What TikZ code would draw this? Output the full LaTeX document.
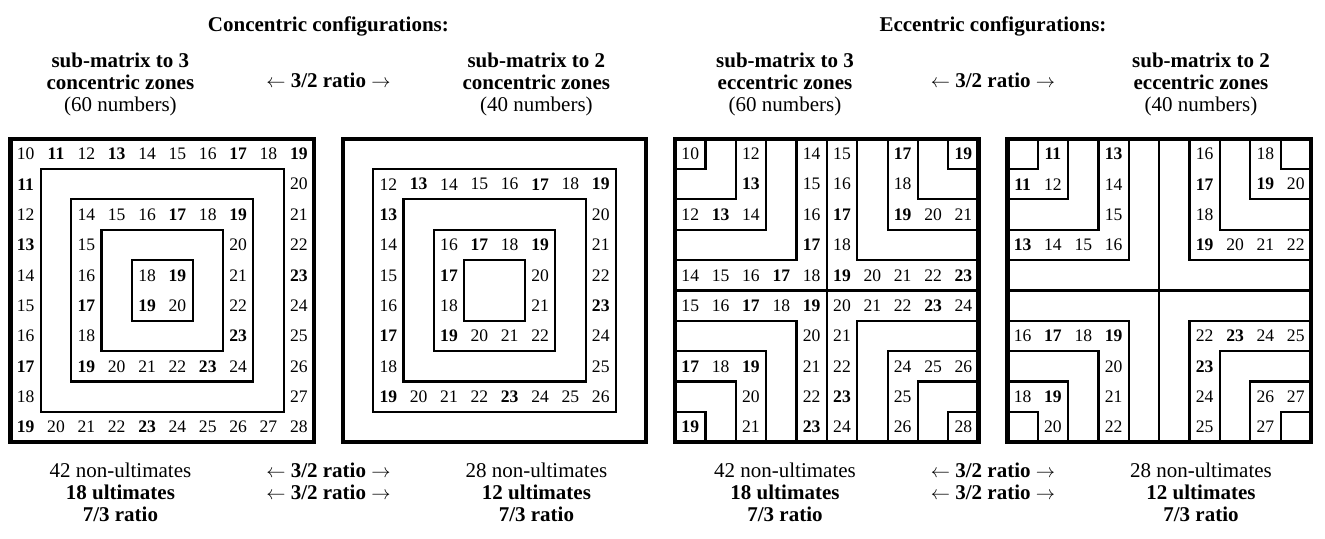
\documentclass[tikz,border=0pt]{standalone}
\usepackage{fontspec}
\setmainfont{Liberation Serif}
\usetikzlibrary{positioning}

% primes of the matrix are set in bold
\newcommand{\zn}[1]{%
  \ifnum#1=11 \textbf{#1}\else\ifnum#1=13 \textbf{#1}\else
  \ifnum#1=17 \textbf{#1}\else\ifnum#1=19 \textbf{#1}\else
  \ifnum#1=23 \textbf{#1}\else #1\fi\fi\fi\fi\fi}

\begin{document}
\begin{tikzpicture}[
    x=0.8cm, y=-0.8cm,
    frame/.style={line width=3.2pt},
    zone/.style={line width=1.6pt},
    num/.style={inner sep=0pt, font=\fontsize{13.2}{14}\selectfont},
    title/.style={inner sep=0pt, font=\fontsize{15.75}{18}\selectfont\bfseries},
    info/.style={inner sep=0pt, align=center, font=\fontsize{15.75}{16.5}\selectfont}
]
    \useasboundingbox (0,0) rectangle (43.657,17.727);

    % The four sub-matrices (mode 0 = concentric, 1 = eccentric)
    \foreach \g/\gx/\mode/\odd in {1/0.346/0/0, 2/11.295/0/1, 3/22.244/1/0, 4/33.193/1/1} {
    \begin{scope}[shift={(\gx,4.57)}]
        \ifnum\mode=0
            \foreach \k in {1,...,4}
                \draw[zone] (\k,\k) rectangle (10-\k,10-\k);
        \else
            \draw[zone] (5,0) -- (5,10) (0,5) -- (10,5);
            \foreach \k in {1,...,4} {
                \draw[zone] (\k,0) |- (0,\k);
                \draw[zone] (10-\k,0) |- (10,\k);
                \draw[zone] (\k,10) |- (0,10-\k);
                \draw[zone] (10-\k,10) |- (10,10-\k);
            }
        \fi
        \draw[frame] (0,0) rectangle (10,10);

        % numbers: cell (r,c) holds 10+r+c
        \foreach \r in {0,...,9}
            \foreach \c in {0,...,9} {
                \pgfmathtruncatemacro\zr{min(\r,9-\r)}
                \pgfmathtruncatemacro\zc{min(\c,9-\c)}
                \pgfmathtruncatemacro\zd{\mode==0 ? min(\zr,\zc) : max(\zr,\zc)}
                \pgfmathtruncatemacro\zk{mod(\zd+\odd,2)==0}
                \ifnum\zk=1
                    \pgfmathtruncatemacro\zv{10+\r+\c}
                    \node[num] (g\g-\r-\c) at (\c+.5,\r+.5) {\zn{\zv}};
                \fi
            }
    \end{scope}
    }

    % Captions
    \foreach \mx/\kind/\titl in {10.82/concentric/Concentric, 32.718/eccentric/Eccentric} {
        \node[title, anchor=north] (head-\kind) at (\mx,0.527) {\titl{} configurations:};
        \node[info, anchor=north] (three-\kind) at (\mx-6.853,1.746)
            {\textbf{sub-matrix to 3}\\\textbf{\kind{} zones}\\(60 numbers)};
        \node[info, anchor=north] (two-\kind) at (\mx+6.853,1.746)
            {\textbf{sub-matrix to 2}\\\textbf{\kind{} zones}\\(40 numbers)};
        \node[info, anchor=base] (ratio-\kind) at (\mx,2.867)
            {$\leftarrow$ \textbf{3/2 ratio} $\rightarrow$};

        \node[info, anchor=north] (low3-\kind) at (\mx-6.853,15.255)
            {42 non-ultimates\\\textbf{18 ultimates}\\\textbf{7/3 ratio}};
        \node[info, anchor=north] (lowr-\kind) at (\mx,15.255)
            {$\leftarrow$ \textbf{3/2 ratio} $\rightarrow$\\$\leftarrow$ \textbf{3/2 ratio} $\rightarrow$};
        \node[info, anchor=north] (low2-\kind) at (\mx+6.853,15.255)
            {28 non-ultimates\\\textbf{12 ultimates}\\\textbf{7/3 ratio}};
    }
\end{tikzpicture}
\end{document}
